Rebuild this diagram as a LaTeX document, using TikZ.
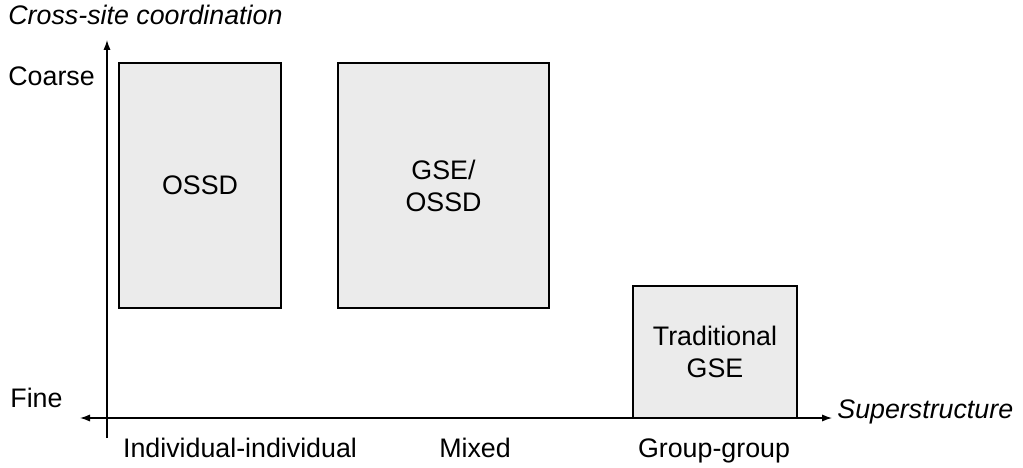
\documentclass[tikz,border=0pt]{standalone}
\usepackage{fontspec}
\setmainfont{Liberation Sans}
\usetikzlibrary{arrows.meta}

\newcommand{\labelsize}{\fontsize{13.4}{16}\selectfont}
\tikzset{
  region/.style={draw, line width=0.6pt, fill=black!8, inner sep=0pt, align=center},
  axislabel/.style={inner sep=0pt, font=\labelsize\itshape},
  ticklabel/.style={inner sep=0pt},
  axisarrow/.style={line width=0.6pt, -{Latex[length=5pt,width=3.6pt]}}
}

\begin{document}
\begin{tikzpicture}[x=0.5pt, y=0.5pt, font=\labelsize]
\useasboundingbox (0,0) rectangle (1023,467);
% axes
\coordinate (ybot) at (107,29);
\coordinate (ytop) at (107,427);
\coordinate (xleft) at (80,49);
\coordinate (xright) at (832,49);
\draw[axisarrow] (ybot) -- (ytop);
\draw[axisarrow, {Latex[length=5pt,width=3.6pt]}-{Latex[length=5pt,width=3.6pt]}] (xleft) -- (xright);
\node[axislabel, anchor=west] (ytitle) at (8,452) {Cross-site coordination};
\node[axislabel, anchor=west] (xtitle) at (837,55) {Superstructure};
\node[ticklabel, anchor=west] (coarse) at (8,391) {Coarse};
\node[ticklabel, anchor=west] (fine) at (10,69) {Fine};
\node[ticklabel, anchor=base] (indiv) at (240,10) {Individual-individual};
\node[ticklabel, anchor=base] (mixed) at (475,10) {Mixed};
\node[ticklabel, anchor=base] (group) at (714,10) {Group-group};
% regions
\node[region, minimum width=81pt, minimum height=122.5pt] (ossd) at (200,281.5) {OSSD};
\node[region, minimum width=105.5pt, minimum height=122.5pt] (mix) at (443.5,281.5) {GSE/\\OSSD};
\node[region, minimum width=82pt, minimum height=66pt] (trad) at (715,115) {Traditional\\GSE};
\end{tikzpicture}
\end{document}
